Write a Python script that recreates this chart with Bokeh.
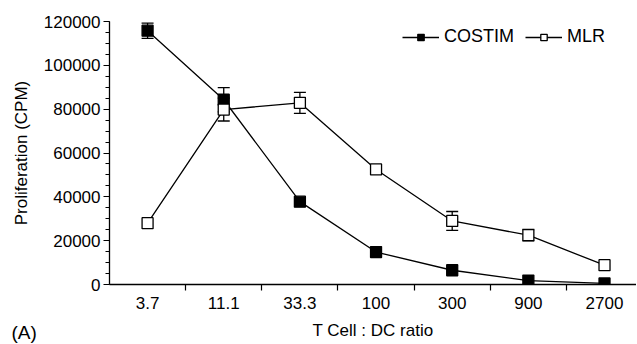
from bokeh.plotting import figure
from bokeh.models import (ColumnDataSource, FixedTicker, SingleIntervalTicker, Range1d,
                          Whisker, TeeHead, Legend, LegendItem, Label, BasicTickFormatter)
from bokeh.embed import file_html
from bokeh.resources import INLINE

categories = ["3.7", "11.1", "33.3", "100", "300", "900", "2700"]
costim = [115800, 84300, 37800, 14800, 6500, 1800, 500]
costim_err = [3500, 5500, 0, 0, 0, 0, 0]
mlr = [28000, 79800, 82900, 52500, 29000, 22500, 8800]
mlr_err = [0, 5200, 4800, 0, 4300, 2600, 0]

FONT = "Liberation Sans"
FS = "17px"
xs = list(range(len(categories)))

p = figure(width=636, height=343, output_backend="svg", toolbar_location=None,
           x_range=Range1d(-0.5, 6.42), y_range=Range1d(0, 120000),
           min_border_left=109, min_border_right=0, min_border_top=20, min_border_bottom=59)
p.outline_line_color = None
p.grid.visible = False
p.background_fill_color = "white"

# axes
p.xaxis.ticker = FixedTicker(ticks=xs, minor_ticks=[i + 0.5 for i in xs[:-1]])
p.xaxis.major_label_overrides = {i: c for i, c in enumerate(categories)}
p.xaxis.major_tick_out = 0
p.xaxis.major_tick_in = 0
p.xaxis.minor_tick_out = 6
p.xaxis.minor_tick_in = 0
p.xaxis.axis_label = "T Cell : DC ratio"

p.yaxis.ticker = SingleIntervalTicker(interval=20000, num_minor_ticks=4)
p.yaxis.formatter = BasicTickFormatter(use_scientific=False)
p.yaxis.major_tick_out = 6
p.yaxis.major_tick_in = 0
p.yaxis.minor_tick_out = 4
p.yaxis.minor_tick_in = 0
p.yaxis.axis_label = "Proliferation (CPM)"

for ax in (p.xaxis[0], p.yaxis[0]):
    ax.axis_line_color = "black"
    ax.axis_line_width = 1.3
    ax.major_tick_line_color = "black"
    ax.minor_tick_line_color = "black"
    ax.major_tick_line_width = 1.2
    ax.minor_tick_line_width = 1.2
    ax.major_label_text_font = FONT
    ax.major_label_text_font_size = FS
    ax.major_label_text_color = "black"
    ax.axis_label_text_font = FONT
    ax.axis_label_text_font_size = FS
    ax.axis_label_text_font_style = "normal"
    ax.axis_label_text_color = "black"
p.xaxis.major_label_standoff = 6
p.xaxis.axis_label_standoff = 9
p.yaxis.major_label_standoff = 3
p.yaxis.axis_label_standoff = 10

# error bars
def err_source(vals, errs):
    sel = [i for i, e in enumerate(errs) if e > 0]
    return ColumnDataSource(dict(x=[xs[i] for i in sel],
                                 lo=[vals[i] - errs[i] for i in sel],
                                 hi=[vals[i] + errs[i] for i in sel]))

for vals, errs in ((costim, costim_err), (mlr, mlr_err)):
    w = Whisker(source=err_source(vals, errs), base="x", lower="lo", upper="hi",
                line_color="black", line_width=1.3,
                lower_head=TeeHead(size=12, line_color="black", line_width=1.3),
                upper_head=TeeHead(size=12, line_color="black", line_width=1.3))
    w.level = "underlay"
    p.add_layout(w)

src_c = ColumnDataSource(dict(x=xs, y=costim))
src_m = ColumnDataSource(dict(x=xs, y=mlr))

lc = p.line("x", "y", source=src_c, line_color="black", line_width=1.3)
lm = p.line("x", "y", source=src_m, line_color="black", line_width=1.3)
sc = p.scatter("x", "y", source=src_c, marker="square", size=11,
               fill_color="black", line_color="black", line_width=1.3)
sm = p.scatter("x", "y", source=src_m, marker="square", size=11,
               fill_color="white", line_color="black", line_width=1.3)

legend = Legend(items=[LegendItem(label="COSTIM", renderers=[lc, sc]),
                       LegendItem(label="MLR", renderers=[lm, sm])],
                orientation="horizontal", location=(293, 237),
                glyph_width=37, glyph_height=16, label_standoff=5, spacing=11,
                padding=0, margin=0, border_line_color=None,
                background_fill_alpha=0,
                label_text_font=FONT, label_text_font_size="18px",
                label_text_color="black")
p.add_layout(legend, "center")

panel_label = Label(x=-98, y=-321, x_units="screen", y_units="screen", text="(A)",
                    text_font=FONT, text_font_size="19px", text_color="black")
p.add_layout(panel_label, "above")

open("out.html", "w").write(file_html(p, INLINE))
